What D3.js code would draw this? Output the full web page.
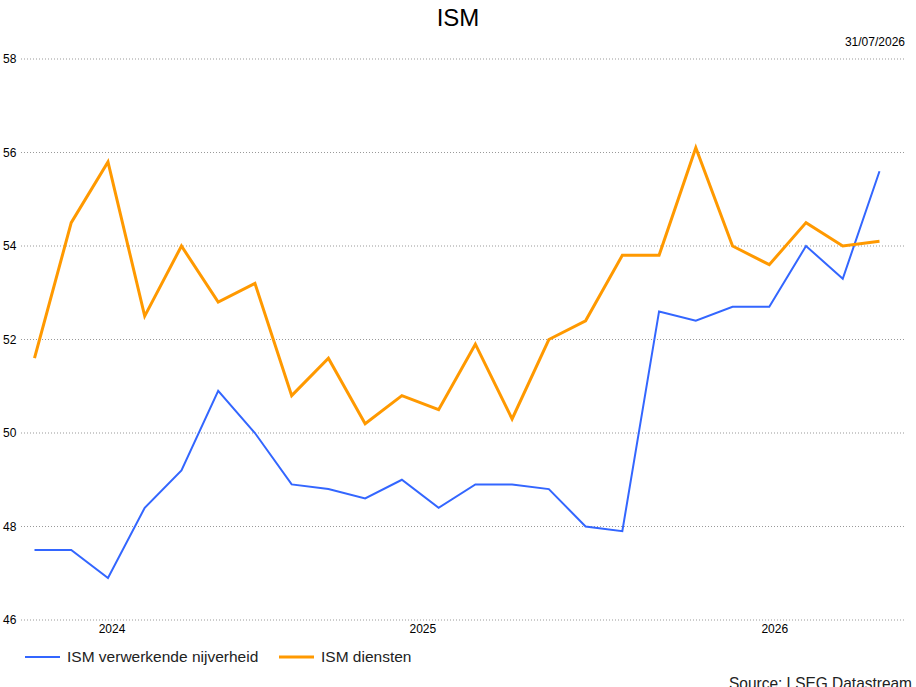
<!DOCTYPE html>
<html><head><meta charset="utf-8">
<script src="https://cdn.jsdelivr.net/npm/d3@7"></script>
<style>body{margin:0;background:#fff;}text{font-family:"Liberation Sans",Arial,sans-serif;}</style>
</head><body>
<svg id="c" width="916" height="687"></svg>
<script>
const manufacturing = [47.5,47.5,46.9,48.4,49.2,50.9,50.0,48.9,48.8,48.6,49.0,48.4,48.9,48.9,48.8,48.0,47.9,52.6,52.4,52.7,52.7,54.0,53.3,55.6];
const services = [51.6,54.5,55.8,52.5,54.0,52.8,53.2,50.8,51.6,50.2,50.8,50.5,51.9,50.3,52.0,52.4,53.8,53.8,56.1,54.0,53.6,54.5,54.0,54.1];
const yTicks = [46,48,50,52,54,56,58];
const yearLabels = ["2024","2025","2026"];
const yearPositions = [2.11,10.57,20.15];
const seriesNames = ["ISM verwerkende nijverheid","ISM diensten"];
const colors = ["#3366ff","#ff9900"];

const svg = d3.select("#c");
const x = d3.scaleLinear().domain([0, services.length-1]).range([34.5, 879.5]);
const y = d3.scaleLinear().domain([46,58]).range([620, 59]);

svg.append("text").attr("x",458).attr("y",26).attr("text-anchor","middle")
  .attr("font-size",24).text("ISM");
svg.append("text").attr("x",905).attr("y",46).attr("text-anchor","end")
  .attr("font-size",12).text("31/07/2026");

const grid = svg.append("g");
yTicks.forEach(t=>{
  grid.append("line").attr("x1",21).attr("x2",905).attr("y1",y(t)).attr("y2",y(t))
    .attr("stroke","#999").attr("stroke-width",1).attr("stroke-dasharray","1,2");
  grid.append("text").attr("x",3).attr("y",y(t)).attr("dy","0.35em")
    .attr("font-size",12).text(t);
});

yearLabels.forEach((l,i)=>{
  svg.append("text").attr("x",x(yearPositions[i])).attr("y",633).attr("text-anchor","middle")
    .attr("font-size",12).text(l);
});

const line = d3.line().x((d,i)=>x(i)).y(d=>y(d));
svg.append("path").datum(manufacturing).attr("d",line).attr("fill","none")
  .attr("stroke",colors[0]).attr("stroke-width",2).attr("stroke-linejoin","miter");
svg.append("path").datum(services).attr("d",line).attr("fill","none")
  .attr("stroke",colors[1]).attr("stroke-width",3).attr("stroke-linejoin","miter");

const legX = [25,279];
seriesNames.forEach((n,i)=>{
  svg.append("line").attr("x1",legX[i]).attr("x2",legX[i]+35).attr("y1",657).attr("y2",657)
    .attr("stroke",colors[i]).attr("stroke-width",i===0?2:3);
  svg.append("text").attr("x",legX[i]+42).attr("y",657).attr("dy","0.35em")
    .attr("font-size",15.5).attr("fill","#222").text(n);
});

svg.append("text").attr("x",912).attr("y",689).attr("text-anchor","end")
  .attr("font-size",17).attr("textLength",183).attr("lengthAdjust","spacingAndGlyphs")
  .attr("fill","#222").text("Source: LSEG Datastream");
</script>
</body></html>
